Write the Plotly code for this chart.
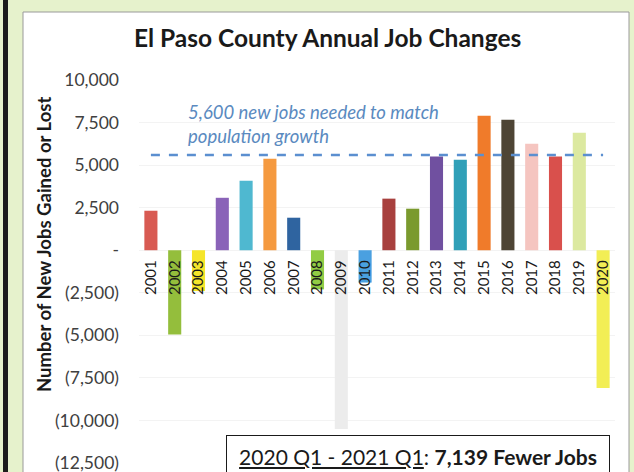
import plotly.graph_objects as go

years = [str(y) for y in range(2001, 2021)]
job_change = [2320, -4950, -2400, 3080, 4080, 5380, 1910, -2300, -10500, -1900,
              3030, 2440, 5500, 5320, 7900, 7670, 6260, 5500, 6900, -8100]
bar_colors = ["#d85a52", "#94be3c", "#f5e52a", "#8a63b8", "#4fb8d0", "#f59a40",
              "#2f64a0", "#92cc44", "#ececec", "#4aa0e0", "#a8403e", "#7a9a2e",
              "#7050a0", "#30a0b8", "#f07b2a", "#4e4535", "#f5c5c0", "#d9504c",
              "#dce9a0", "#f2ee55"]
target_jobs = 5600
tick_vals = [10000, 7500, 5000, 2500, 0, -2500, -5000, -7500, -10000, -12500]
tick_text = ["10,000", "7,500", "5,000", "2,500", "-", "(2,500)", "(5,000)",
             "(7,500)", "(10,000)", "(12,500)"]

W, H = 634, 472
ML, MR, MT, MB = 139, 19, 80, 9
pw, ph = W - ML - MR, H - MT - MB


def px(x):
    return (x - ML) / pw


def py(y):
    return (H - MB - y) / ph


fig = go.Figure()
fig.add_trace(go.Bar(x=years, y=job_change, marker=dict(color=bar_colors, line_width=0)))
fig.add_trace(go.Scatter(x=years, y=[target_jobs] * len(years), mode="lines",
                         line=dict(color="#5b8fd0", width=2.5, dash="dash"), hoverinfo="skip"))

ymin, ymax = -12500, 10000

fig.update_layout(
    width=W, height=H,
    margin=dict(l=ML, r=MR, t=MT, b=MB, autoexpand=False),
    paper_bgcolor="#e6f2cc",
    plot_bgcolor="rgba(0,0,0,0)",
    showlegend=False,
    bargap=0.45,
    font=dict(family="Lato", color="#262626"),
    xaxis=dict(type="category", anchor="free", position=(0 - ymin) / (ymax - ymin),
               automargin=False, tickangle=-90, showgrid=False, showline=False, ticks="",
               ticklabelstandoff=6, tickfont=dict(size=15, color="#1a1a1a")),
    yaxis=dict(range=[ymin, ymax], tickvals=tick_vals, ticktext=tick_text,
               automargin=False, showgrid=True, gridcolor="#f3f3f3", zeroline=False,
               showline=False, ticklabelstandoff=19, ticklabeloverflow="allow",
               tickfont=dict(size=17.5, color="#404040")),
    shapes=[
        dict(type="rect", xref="paper", yref="paper", x0=px(23), x1=px(629),
             y0=py(490), y1=py(12), fillcolor="white",
             line=dict(color="#9a9a9a", width=1), layer="below"),
        dict(type="rect", xref="paper", yref="paper", x0=px(3), x1=px(8),
             y0=py(490), y1=py(-10), fillcolor="#1c1c1c", line_width=0, layer="below"),
    ],
    annotations=[
        dict(text="<b>El Paso County Annual Job Changes</b>", xref="paper", yref="paper",
             x=px(327), y=py(37), xanchor="center", yanchor="middle", showarrow=False,
             font=dict(size=24.5, color="#1a1a1a")),
        dict(text="<b>Number of New Jobs Gained or Lost</b>", xref="paper", yref="paper",
             x=px(44), y=py(245), xanchor="center", yanchor="middle", textangle=-90,
             showarrow=False, font=dict(size=18.5, color="#1a1a1a")),
        dict(text="<i>5,600 new jobs needed to match<br>population growth</i>",
             xref="paper", yref="paper", x=px(186), y=py(99), xanchor="left",
             yanchor="top", align="left", showarrow=False,
             font=dict(size=18.5, color="#5a8ac0")),
        dict(text="<u>2020 Q1 - 2021 Q1</u>: <b>7,139 Fewer Jobs</b>",
             xref="paper", yref="paper", x=px(226), y=py(435), xanchor="left",
             yanchor="top", showarrow=False, width=366, align="center",
             bgcolor="white", bordercolor="#1a1a1a", borderwidth=1, borderpad=8,
             font=dict(size=21, color="#1a1a1a")),
    ],
)

# the page opens with the browser's default body margin; drop it so the figure fills the window
fig.write_html("out.html", config={"displayModeBar": False},
               post_script="document.body.style.margin='0';")
